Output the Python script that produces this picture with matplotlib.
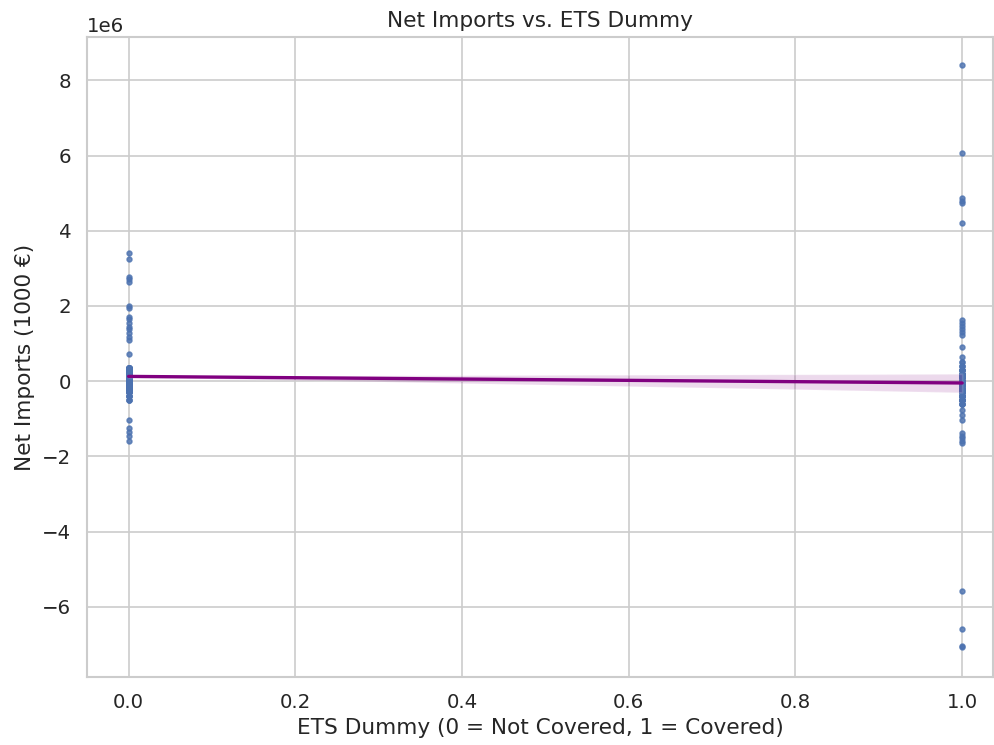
import numpy as np
import pandas as pd
import matplotlib
matplotlib.use("Agg")
import matplotlib.pyplot as plt
import seaborn as sns

# net imports in 1000 EUR (scaled by 1e6), split by ETS coverage
# spread-out observations, read one by one
not_covered = [3.40, 3.25, 2.78, 2.72, 2.65, 2.00, 1.95, 1.72, 1.65, 1.55,
               1.45, 1.38, 1.28, 1.18, 1.10, 0.72,
               -1.02, -1.25, -1.35, -1.45, -1.60]
covered = [8.40, 6.06, 4.87, 4.80, 4.75, 4.20, 1.62, 1.55, 1.48, 1.40,
           1.30, 1.22, 0.90, 0.64,
           -0.77, -0.90, -1.04, -1.38, -1.45, -1.52, -1.60, -1.65,
           -5.58, -6.60, -7.05, -7.08]

# dense bands around zero: value -> number of sectors at that value
band0_vals = [0.35, 0.30, 0.25, 0.20, 0.15, 0.10, 0.05, 0.00,
              -0.05, -0.10, -0.15, -0.20, -0.30, -0.40, -0.50]
band0_counts = [15, 30, 50, 60, 80, 90, 90, 70, 40, 20, 12, 8, 6, 4, 3]
band1_vals = [0.50, 0.40, 0.30, 0.20, 0.10, 0.00,
              -0.10, -0.20, -0.30, -0.40, -0.50, -0.60]
band1_counts = [2, 3, 5, 8, 12, 18, 20, 18, 14, 10, 8, 4]

y0 = np.concatenate([not_covered, np.repeat(band0_vals, band0_counts)])
y1 = np.concatenate([covered, np.repeat(band1_vals, band1_counts)])

df = pd.DataFrame({
    "ets": np.r_[np.zeros(len(y0)), np.ones(len(y1))],
    "net_imports": np.r_[y0, y1] * 1e6,
})

sns.set_theme(style="whitegrid", font_scale=1.08)

fig, ax = plt.subplots(figsize=(995 / 120, 745 / 120), dpi=120)
fig.subplots_adjust(left=0.0874, right=0.998, top=0.950, bottom=0.0913)

sns.regplot(data=df, x="ets", y="net_imports", ax=ax, seed=0,
            scatter_kws={"s": 8}, line_kws={"color": "purple", "lw": 2})

ax.set_xlim(-0.05, 1.037)
ax.set_ylim(-7.87e6, 9.15e6)
ax.set_title("Net Imports vs. ETS Dummy")
ax.set_xlabel("ETS Dummy (0 = Not Covered, 1 = Covered)")
ax.set_ylabel("Net Imports (1000 €)")

fig.savefig("out.png", dpi=120)
